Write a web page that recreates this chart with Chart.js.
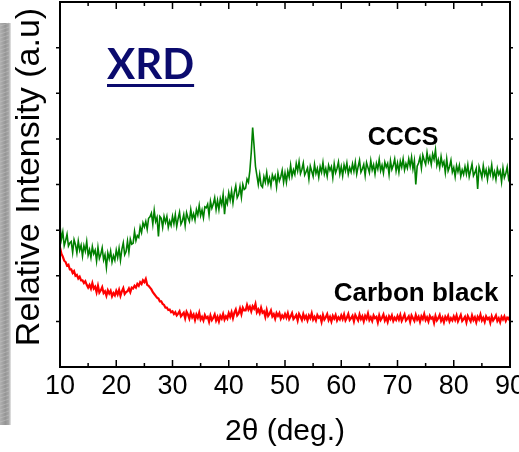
<!DOCTYPE html>
<html>
<head>
<meta charset="utf-8">
<script src="https://cdn.jsdelivr.net/npm/chart.js@4"></script>
<style>
  html, body { margin: 0; padding: 0; background: #fff; }
  #wrap { width: 519px; height: 452px; }
</style>
</head>
<body>
<div id="wrap"><canvas id="xrd" width="519" height="452"></canvas></div>
<script>
// 2theta positions (deg.), 0.25 deg. scan
const twoTheta = [
  10, 10.25, 10.5, 10.75, 11, 11.25, 11.5, 11.75,
  12, 12.25, 12.5, 12.75, 13, 13.25, 13.5, 13.75,
  14, 14.25, 14.5, 14.75, 15, 15.25, 15.5, 15.75,
  16, 16.25, 16.5, 16.75, 17, 17.25, 17.5, 17.75,
  18, 18.25, 18.5, 18.75, 19, 19.25, 19.5, 19.75,
  20, 20.25, 20.5, 20.75, 21, 21.25, 21.5, 21.75,
  22, 22.25, 22.5, 22.75, 23, 23.25, 23.5, 23.75,
  24, 24.25, 24.5, 24.75, 25, 25.25, 25.5, 25.75,
  26, 26.25, 26.5, 26.75, 27, 27.25, 27.5, 27.75,
  28, 28.25, 28.5, 28.75, 29, 29.25, 29.5, 29.75,
  30, 30.25, 30.5, 30.75, 31, 31.25, 31.5, 31.75,
  32, 32.25, 32.5, 32.75, 33, 33.25, 33.5, 33.75,
  34, 34.25, 34.5, 34.75, 35, 35.25, 35.5, 35.75,
  36, 36.25, 36.5, 36.75, 37, 37.25, 37.5, 37.75,
  38, 38.25, 38.5, 38.75, 39, 39.25, 39.5, 39.75,
  40, 40.25, 40.5, 40.75, 41, 41.25, 41.5, 41.75,
  42, 42.25, 42.5, 42.75, 43, 43.25, 43.5, 43.75,
  44, 44.25, 44.5, 44.75, 45, 45.25, 45.5, 45.75,
  46, 46.25, 46.5, 46.75, 47, 47.25, 47.5, 47.75,
  48, 48.25, 48.5, 48.75, 49, 49.25, 49.5, 49.75,
  50, 50.25, 50.5, 50.75, 51, 51.25, 51.5, 51.75,
  52, 52.25, 52.5, 52.75, 53, 53.25, 53.5, 53.75,
  54, 54.25, 54.5, 54.75, 55, 55.25, 55.5, 55.75,
  56, 56.25, 56.5, 56.75, 57, 57.25, 57.5, 57.75,
  58, 58.25, 58.5, 58.75, 59, 59.25, 59.5, 59.75,
  60, 60.25, 60.5, 60.75, 61, 61.25, 61.5, 61.75,
  62, 62.25, 62.5, 62.75, 63, 63.25, 63.5, 63.75,
  64, 64.25, 64.5, 64.75, 65, 65.25, 65.5, 65.75,
  66, 66.25, 66.5, 66.75, 67, 67.25, 67.5, 67.75,
  68, 68.25, 68.5, 68.75, 69, 69.25, 69.5, 69.75,
  70, 70.25, 70.5, 70.75, 71, 71.25, 71.5, 71.75,
  72, 72.25, 72.5, 72.75, 73, 73.25, 73.5, 73.75,
  74, 74.25, 74.5, 74.75, 75, 75.25, 75.5, 75.75,
  76, 76.25, 76.5, 76.75, 77, 77.25, 77.5, 77.75,
  78, 78.25, 78.5, 78.75, 79, 79.25, 79.5, 79.75,
  80, 80.25, 80.5, 80.75, 81, 81.25, 81.5, 81.75,
  82, 82.25, 82.5, 82.75, 83, 83.25, 83.5, 83.75,
  84, 84.25, 84.5, 84.75, 85, 85.25, 85.5, 85.75,
  86, 86.25, 86.5, 86.75, 87, 87.25, 87.5, 87.75,
  88, 88.25, 88.5, 88.75, 89, 89.25, 89.5, 89.75,
  90
];

// CCCS pattern (green)
const cccs = [
  3.10, 2.80, 2.96, 2.66, 2.77, 2.91, 2.65, 2.72,
  2.75, 2.51, 2.79, 2.68, 2.50, 2.76, 2.56, 2.67,
  2.43, 2.66, 2.54, 2.75, 2.45, 2.57, 2.40, 2.64,
  2.48, 2.56, 2.32, 2.62, 2.38, 2.47, 2.61, 2.35,
  2.46, 2.18, 2.50, 2.37, 2.54, 2.30, 2.44, 2.34,
  2.56, 2.40, 2.60, 2.34, 2.58, 2.72, 2.46, 2.53,
  2.76, 2.52, 2.80, 2.69, 2.71, 2.97, 2.77, 2.88,
  2.84, 3.07, 2.95, 3.16, 3.07, 3.19, 3.02, 3.26,
  3.29, 3.37, 3.13, 3.43, 3.19, 3.28, 2.86, 3.30,
  3.26, 3.06, 3.30, 3.17, 3.30, 3.06, 3.20, 3.10,
  3.30, 3.14, 3.34, 3.08, 3.25, 3.39, 3.13, 3.20,
  3.34, 3.10, 3.38, 3.27, 3.19, 3.45, 3.25, 3.36,
  3.22, 3.45, 3.33, 3.54, 3.32, 3.44, 3.27, 3.51,
  3.49, 3.57, 3.33, 3.63, 3.48, 3.57, 3.71, 3.45,
  3.65, 3.45, 3.69, 3.56, 3.78, 3.35, 3.68, 3.58,
  3.82, 3.66, 3.86, 3.60, 3.83, 3.97, 3.71, 3.78,
  3.96, 3.72, 4.00, 3.89, 3.92, 4.12, 4.05, 4.30,
  4.70, 5.25, 4.85, 4.40, 4.20, 4.00, 4.22, 3.98,
  3.94, 4.17, 4.05, 4.26, 4.02, 4.14, 3.97, 4.21,
  4.11, 4.19, 3.95, 4.25, 4.08, 4.17, 4.31, 4.05,
  4.25, 4.05, 4.29, 4.16, 4.42, 4.18, 4.32, 4.22,
  4.46, 4.30, 4.50, 4.24, 4.33, 4.47, 4.21, 4.28,
  4.36, 4.12, 4.40, 4.29, 4.18, 4.44, 4.24, 4.35,
  4.16, 4.39, 4.27, 4.48, 4.23, 4.35, 4.18, 4.42,
  4.31, 4.39, 4.15, 4.45, 4.26, 4.35, 4.49, 4.23,
  4.39, 4.19, 4.43, 4.30, 4.47, 4.23, 4.37, 4.27,
  4.45, 4.29, 4.49, 4.23, 4.39, 4.53, 4.27, 4.34,
  4.44, 4.20, 4.48, 4.37, 4.26, 4.52, 4.32, 4.43,
  4.23, 4.46, 4.34, 4.55, 4.30, 4.42, 4.25, 4.49,
  4.38, 4.46, 4.22, 4.52, 4.33, 4.42, 4.56, 4.30,
  4.47, 4.27, 4.51, 4.38, 4.56, 4.32, 4.46, 4.36,
  4.56, 4.40, 4.60, 4.34, 4.52, 4.00, 4.40, 4.47,
  4.60, 4.36, 4.64, 4.53, 4.44, 4.70, 4.50, 4.61,
  4.44, 4.67, 4.55, 4.76, 4.42, 4.54, 4.37, 4.61,
  4.42, 4.50, 4.26, 4.56, 4.30, 4.39, 4.53, 4.27,
  4.37, 4.17, 4.41, 4.28, 4.42, 4.18, 4.32, 4.22,
  4.39, 4.23, 4.43, 4.17, 4.31, 4.45, 4.19, 4.26,
  4.35, 3.90, 4.39, 4.28, 4.15, 4.41, 4.21, 4.32,
  4.11, 4.34, 4.22, 4.43, 4.16, 4.28, 4.11, 4.35,
  4.22, 4.30, 4.06, 4.36, 4.15, 4.24, 4.38, 4.12,
  4.22
];

// carbon black pattern (red)
const carbonBlack = [
  2.62, 2.48, 2.42, 2.33, 2.30, 2.22, 2.24, 2.14,
  2.14, 2.06, 2.10, 2.00, 2.02, 1.94, 1.98, 1.90,
  1.90, 1.84, 1.88, 1.80, 1.74, 1.80, 1.72, 1.84,
  1.72, 1.76, 1.64, 1.78, 1.63, 1.68, 1.75, 1.62,
  1.66, 1.56, 1.68, 1.61, 1.67, 1.55, 1.62, 1.57,
  1.67, 1.59, 1.69, 1.56, 1.66, 1.73, 1.60, 1.64,
  1.66, 1.72, 1.64, 1.74, 1.72, 1.78, 1.74, 1.82,
  1.78, 1.86, 1.82, 1.90, 1.86, 1.93, 1.80, 1.78,
  1.74, 1.70, 1.64, 1.60, 1.56, 1.52, 1.50, 1.44,
  1.44, 1.38, 1.36, 1.30, 1.30, 1.25, 1.26, 1.20,
  1.22, 1.16, 1.20, 1.13, 1.17, 1.22, 1.11, 1.15,
  1.19, 1.07, 1.21, 1.15, 1.06, 1.19, 1.09, 1.15,
  1.03, 1.15, 1.08, 1.19, 1.04, 1.10, 1.02, 1.14,
  1.07, 1.10, 0.99, 1.13, 1.03, 1.08, 1.15, 1.02,
  1.10, 1.00, 1.12, 1.06, 1.16, 1.04, 1.11, 1.06,
  1.18, 1.10, 1.20, 1.07, 1.19, 1.26, 1.13, 1.17,
  1.28, 1.16, 1.30, 1.24, 1.24, 1.36, 1.26, 1.32,
  1.22, 1.33, 1.28, 1.38, 1.20, 1.26, 1.18, 1.30,
  1.19, 1.22, 1.10, 1.25, 1.12, 1.17, 1.24, 1.11,
  1.16, 1.06, 1.18, 1.12, 1.18, 1.06, 1.13, 1.08,
  1.16, 1.08, 1.18, 1.05, 1.11, 1.18, 1.05, 1.09,
  1.14, 1.02, 1.16, 1.10, 1.03, 1.16, 1.06, 1.12,
  1.02, 1.13, 1.07, 1.18, 1.04, 1.10, 1.02, 1.14,
  1.08, 1.11, 0.99, 1.14, 1.04, 1.09, 1.16, 1.03,
  1.10, 1.00, 1.12, 1.06, 1.14, 1.02, 1.09, 1.04,
  1.13, 1.05, 1.15, 1.02, 1.08, 1.16, 1.03, 1.07,
  1.12, 1.00, 1.14, 1.08, 1.02, 1.15, 1.05, 1.11,
  1.00, 1.12, 1.06, 1.17, 1.03, 1.09, 1.01, 1.13,
  1.07, 1.10, 0.98, 1.13, 1.03, 1.08, 1.15, 1.02,
  1.09, 0.99, 1.11, 1.05, 1.13, 1.01, 1.08, 1.03,
  1.12, 1.04, 1.14, 1.01, 1.08, 1.15, 1.02, 1.06,
  1.11, 0.99, 1.13, 1.07, 1.01, 1.14, 1.04, 1.10,
  0.99, 1.11, 1.05, 1.16, 1.03, 1.09, 1.00, 1.12,
  1.06, 1.09, 0.97, 1.12, 1.02, 1.07, 1.14, 1.01,
  1.08, 0.98, 1.10, 1.04, 1.12, 1.00, 1.07, 1.02,
  1.11, 1.03, 1.13, 1.00, 1.07, 1.14, 1.01, 1.05,
  1.10, 0.98, 1.12, 1.06, 1.00, 1.13, 1.03, 1.09,
  0.98, 1.10, 1.04, 1.15, 1.02, 1.08, 0.99, 1.11,
  1.05, 1.08, 0.97, 1.11, 1.02, 1.07, 1.13, 1.01,
  1.07, 0.98, 1.10, 1.04, 1.11, 1.01, 1.08, 1.05,
  1.12
];

// tick positions for the frame
const xTicks = [10, 20, 30, 40, 50, 60, 70, 80, 90];
const xMinorTicks = [15, 25, 35, 45, 55, 65, 75, 85];
const yTicks = [1, 2, 3, 4, 5, 6, 7];

const canvas = document.getElementById('xrd');

function points(ys) {
  return twoTheta.map(function(t, i) { return {x: t, y: ys[i]}; });
}

// box, ticks and the text labels inside the plot
const framePlugin = {
  id: 'frame',
  beforeDraw(chart) {
    let ctx = chart.ctx;
    // grey strip on the left edge of the original figure
    let g = ctx.createLinearGradient(0, 0, 11, 0);
    g.addColorStop(0, '#b0b0b0');
    g.addColorStop(0.5, '#959595');
    g.addColorStop(0.8, '#a8a8a8');
    g.addColorStop(1, '#e8e8e8');
    ctx.save();
    ctx.fillStyle = g;
    ctx.fillRect(0, 23, 11, 402);
    ctx.strokeStyle = 'rgba(200,200,200,0.45)';
    ctx.lineWidth = 1;
    for (let y = 26; y < 424; y += 4) {
      ctx.beginPath();
      ctx.moveTo(0, y);
      ctx.lineTo(9, y - 3);
      ctx.stroke();
    }
    ctx.restore();
  },
  afterDraw(chart) {
    let ctx = chart.ctx;
    let a = chart.chartArea;
    let xs = chart.scales.x;
    let ys = chart.scales.y;
    ctx.save();
    ctx.strokeStyle = '#000';
    ctx.lineWidth = 2;
    ctx.strokeRect(a.left, a.top, a.right - a.left, a.bottom - a.top);

    ctx.lineWidth = 1.5;
    function xtick(v, len) {
      let px = xs.getPixelForValue(v);
      ctx.beginPath();
      ctx.moveTo(px, a.bottom);
      ctx.lineTo(px, a.bottom - len);
      ctx.moveTo(px, a.top);
      ctx.lineTo(px, a.top + len);
      ctx.stroke();
    }
    xTicks.forEach(function(v) { xtick(v, 7); });
    xMinorTicks.forEach(function(v) { xtick(v, 4); });
    yTicks.forEach(function(v) {
      let py = ys.getPixelForValue(v);
      ctx.beginPath();
      ctx.moveTo(a.left, py);
      ctx.lineTo(a.left - 4, py);
      ctx.moveTo(a.right, py);
      ctx.lineTo(a.right + 3, py);
      ctx.stroke();
    });

    // y axis title, rotated
    ctx.save();
    ctx.translate(30, 177);
    ctx.rotate(-Math.PI / 2);
    ctx.fillStyle = '#000';
    ctx.font = '34px "Liberation Sans"';
    ctx.textAlign = 'center';
    ctx.textBaseline = 'middle';
    ctx.fillText('Relative Intensity (a.u)', 0, 0);
    ctx.restore();

    // XRD heading, underlined
    ctx.fillStyle = '#0b0b6e';
    ctx.font = 'bold 42px Lato';
    ctx.textBaseline = 'alphabetic';
    ctx.textAlign = 'left';
    ctx.fillText('XRD', 107, 79);
    let w = ctx.measureText('XRD').width;
    ctx.fillRect(107, 84, w, 3);

    // series labels
    ctx.fillStyle = '#000';
    ctx.textAlign = 'center';
    ctx.font = 'bold 25px "Liberation Sans"';
    ctx.fillText('CCCS', xs.getPixelForValue(71.0), ys.getPixelForValue(4.87));
    ctx.font = 'bold 26px "Liberation Sans"';
    ctx.fillText('Carbon black', xs.getPixelForValue(73.3), ys.getPixelForValue(1.45));
    ctx.restore();
  }
};

let chart = new Chart(canvas, {
  type: 'line',
  data: {
    datasets: [
      {
        label: 'CCCS',
        data: points(cccs),
        borderColor: '#008000',
        borderWidth: 1.6,
        pointRadius: 0,
        tension: 0
      },
      {
        label: 'Carbon black',
        data: points(carbonBlack),
        borderColor: '#ff0000',
        borderWidth: 2.2,
        pointRadius: 0,
        tension: 0
      }
    ]
  },
  options: {
    responsive: false,
    animation: false,
    layout: { padding: { top: 2, right: 9, left: 0, bottom: 0 } },
    plugins: {
      legend: { display: false },
      tooltip: { enabled: false }
    },
    scales: {
      x: {
        type: 'linear',
        min: 10,
        max: 90,
        grid: { display: false, drawTicks: false },
        border: { display: false },
        ticks: {
          stepSize: 10,
          padding: 3,
          color: '#000',
          font: { family: '"Liberation Sans Narrow", "Liberation Sans"', size: 27 }
        },
        title: {
          display: true,
          text: '2θ (deg.)',
          color: '#000',
          padding: { top: 0, bottom: 5 },
          font: { family: 'Liberation Sans', size: 30, lineHeight: 1.0 }
        },
        afterFit(scale) {
          // keep the plot box fixed; the last label may run off the edge
          scale.height = 85;
          scale.paddingLeft = 0;
          scale.paddingRight = 0;
        }
      },
      y: {
        min: 0,
        max: 8,
        grid: { display: false, drawTicks: false },
        border: { display: false },
        ticks: { display: false },
        afterFit(scale) { scale.width = 60; }
      }
    }
  },
  plugins: [framePlugin]
});
</script>
</body>
</html>
